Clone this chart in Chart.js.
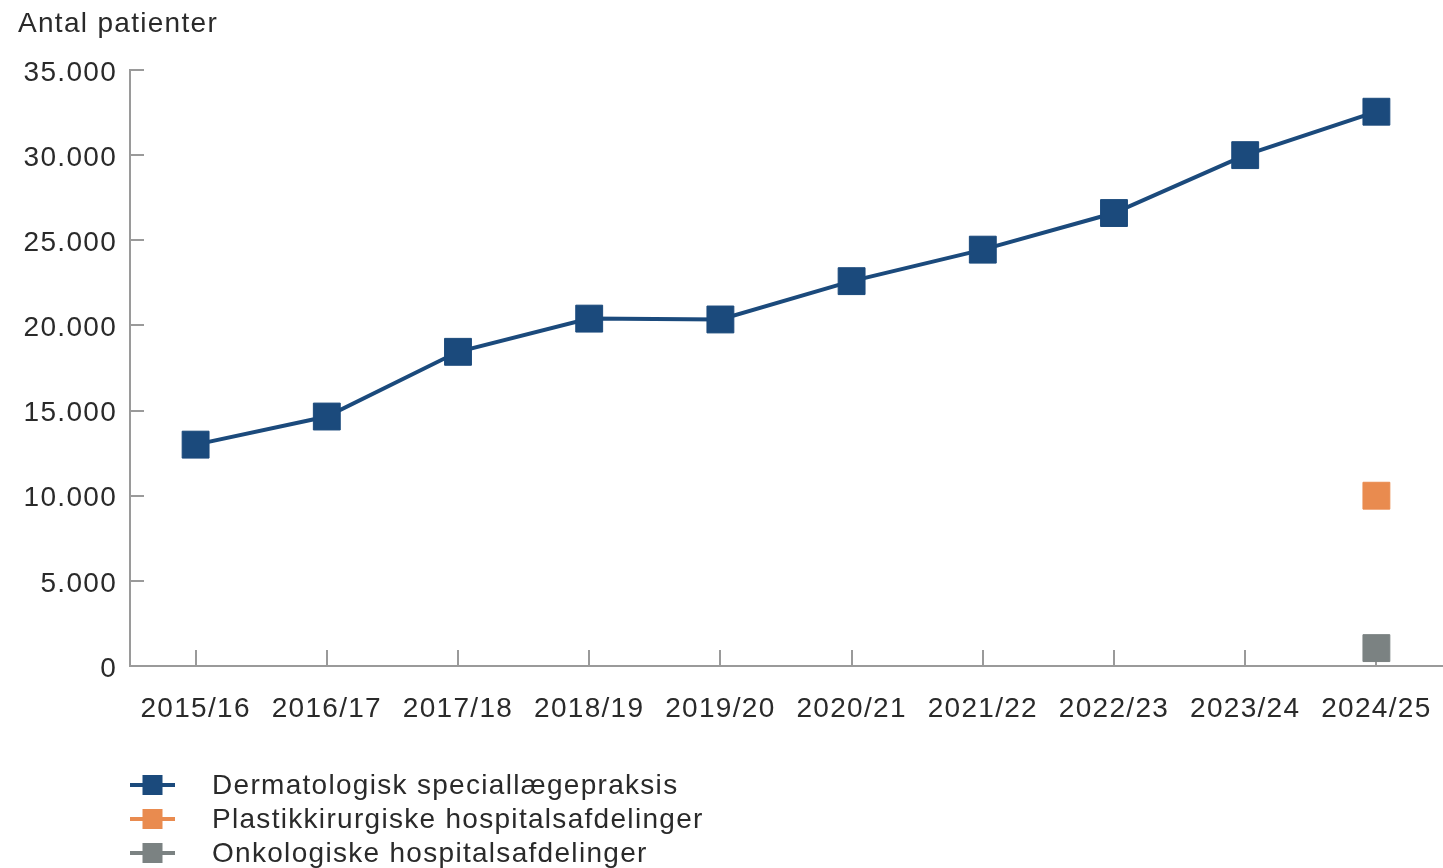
<!DOCTYPE html>
<html lang="da">
<head>
<meta charset="utf-8">
<title>Antal patienter</title>
<script src="https://cdn.jsdelivr.net/npm/chart.js@4/dist/chart.umd.min.js"></script>
<style>
  html, body { margin: 0; padding: 0; background: #ffffff; }
  canvas { display: block; }
</style>
</head>
<body>
<canvas id="c" width="1443" height="868"></canvas>
<script>
// ---- Data ----
const yAxisTitle = 'Antal patienter';
const categories = ['2015/16', '2016/17', '2017/18', '2018/19', '2019/20', '2020/21', '2021/22', '2022/23', '2023/24', '2024/25'];
const seriesNames = ['Dermatologisk speciallægepraksis', 'Plastikkirurgiske hospitalsafdelinger', 'Onkologiske hospitalsafdelinger'];
const dermatologisk = [13000, 14650, 18450, 20400, 20350, 22600, 24450, 26600, 30000, 32550];
const plastikkirurgiske = [null, null, null, null, null, null, null, null, null, 10000];
const onkologiske = [null, null, null, null, null, null, null, null, null, 1050];
const yTicks = [0, 5000, 10000, 15000, 20000, 25000, 30000, 35000];

// ---- Style ----
const colors = ['#1b4a7c', '#e98b4f', '#7b8282'];
const textColor = '#2a2a2a';
const axisColor = '#9a9a9a';
const fontFamily = "'Liberation Sans', Arial, Helvetica, sans-serif";
const spacing = '1.3px';

function fmt(v) {
  return String(v).replace(/\B(?=(\d{3})+(?!\d))/g, '.');
}

const spacingPlugin = {
  id: 'spacing',
  beforeUpdate(chart) { chart.ctx.letterSpacing = spacing; },
  beforeLayout(chart) { chart.ctx.letterSpacing = spacing; },
  beforeDraw(chart) { chart.ctx.letterSpacing = spacing; }
};

const extrasPlugin = {
  id: 'extras',
  afterDraw(chart) {
    const ctx = chart.ctx;
    ctx.save();
    ctx.letterSpacing = spacing;
    // axis title (top-left)
    ctx.fillStyle = textColor;
    ctx.font = '28px ' + fontFamily;
    ctx.textAlign = 'left';
    ctx.textBaseline = 'middle';
    ctx.fillText(yAxisTitle, 18, 24);
    // legend
    const lx0 = 130, lx1 = 175, tx = 212, y0 = 785, dy = 34;
    chart.data.datasets.forEach((ds, i) => {
      const y = y0 + dy * i;
      const c = ds.pointBackgroundColor || ds.borderColor;
      ctx.strokeStyle = c;
      ctx.lineWidth = 4;
      ctx.beginPath();
      ctx.moveTo(lx0, y);
      ctx.lineTo(lx1, y);
      ctx.stroke();
      ctx.fillStyle = c;
      ctx.fillRect((lx0 + lx1) / 2 - 10, y - 10, 20, 20);
      ctx.fillStyle = textColor;
      ctx.font = '28px ' + fontFamily;
      ctx.fillText(ds.label, tx, y + 1);
    });
    ctx.restore();
  }
};

const pointCommon = {
  pointStyle: 'rect',
  pointRadius: 19,
  pointHoverRadius: 19,
  pointBorderWidth: 1
};

new Chart(document.getElementById('c'), {
  type: 'line',
  data: {
    labels: categories,
    datasets: [
      Object.assign({
        label: seriesNames[0],
        data: dermatologisk,
        borderColor: colors[0],
        backgroundColor: colors[0],
        pointBackgroundColor: colors[0],
        pointBorderColor: colors[0],
        borderWidth: 4,
        tension: 0,
        clip: false
      }, pointCommon),
      Object.assign({
        label: seriesNames[1],
        data: plastikkirurgiske,
        borderColor: colors[1],
        backgroundColor: colors[1],
        pointBackgroundColor: colors[1],
        pointBorderColor: colors[1],
        showLine: false,
        clip: false
      }, pointCommon),
      Object.assign({
        label: seriesNames[2],
        data: onkologiske,
        borderColor: colors[2],
        backgroundColor: colors[2],
        pointBackgroundColor: colors[2],
        pointBorderColor: colors[2],
        showLine: false,
        clip: false
      }, pointCommon)
    ]
  },
  options: {
    responsive: false,
    animation: false,
    layout: { autoPadding: false, padding: { top: 70, left: 18, right: 1, bottom: 142 } },
    plugins: {
      legend: { display: false },
      title: { display: false },
      tooltip: { enabled: false }
    },
    scales: {
      x: {
        offset: true,
        grid: {
          display: true,
          drawOnChartArea: false,
          drawTicks: true,
          tickLength: -16,
          color: axisColor,
          lineWidth: 2,
          offset: false
        },
        border: { display: true, color: axisColor, width: 2 },
        ticks: {
          color: textColor,
          font: { family: fontFamily, size: 28 },
          padding: 42,
          maxRotation: 0,
          autoSkip: false
        },
        afterFit(scale) {
          scale.height = 60;
          scale.paddingLeft = 0;
          scale.paddingRight = 0;
        }
      },
      y: {
        min: 0,
        max: 35000,
        grid: {
          display: true,
          drawOnChartArea: false,
          drawTicks: true,
          tickLength: -14,
          color: axisColor,
          lineWidth: 2
        },
        border: { display: true, color: axisColor, width: 2 },
        ticks: {
          color: textColor,
          font: { family: fontFamily, size: 28 },
          padding: 27,
          labelOffset: 3,
          callback: (v) => fmt(v)
        },
        afterBuildTicks(scale) { scale.ticks = yTicks.map(v => ({ value: v })); },
        afterFit(scale) { scale.width = 112; }
      }
    }
  },
  plugins: [spacingPlugin, extrasPlugin]
});
</script>
</body>
</html>
